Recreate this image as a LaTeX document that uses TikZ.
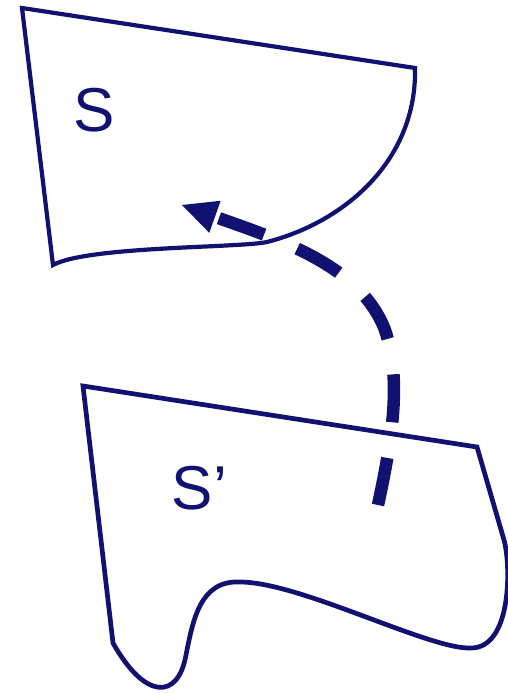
\documentclass[tikz,border=0pt]{standalone}
\usepackage{fontspec}
\setmainfont{Liberation Sans}
\usetikzlibrary{arrows.meta}
\definecolor{navyblue}{RGB}{17,17,114}

\tikzset{every picture/.style={line width=0.75pt}}
\tikzset{
  patch/.style={draw=navyblue, line width=4.2pt, line join=miter},
  patchlabel/.style={text=navyblue, inner sep=0pt, font=\fontsize{62}{70}\selectfont},
  moveline/.style={draw=navyblue, line width=12.5pt, dash pattern=on 48pt off 36pt,
    -{Triangle[length=35pt,width=34pt,line width=0pt]}}
}

\begin{document}
\begin{tikzpicture}[x=1pt,y=1pt,yscale=-1,xscale=1]
\useasboundingbox (0,0) rectangle (508,693);

%Shape: Curve [id:patchS]
\draw [patch] (22,8) -- (415,68) .. controls (417,160) and (345,222) .. (267,242) .. controls (240,248) and (88,246) .. (53,265) -- cycle ;

%Shape: Curve [id:patchSp]
\draw [patch, line width=4.7pt] (83,386) -- (477,447) -- (504,540) .. controls (511,565) and (512,648) .. (471,648) .. controls (430,650) and (300,582) .. (240,582) .. controls (200,580) and (193,620) .. (186,655) .. controls (178,700) and (145,700) .. (113,643) -- cycle ;

% Text Node
\node [patchlabel] (labS) at (94,110.5) {S};
% Text Node
\node [patchlabel] (labSp) at (199.5,488.5) {S’};

% Connector
\coordinate (from) at (378,505);
\coordinate (to) at (182,205);
\draw [moveline] (from) .. controls (392,440) and (402,380) .. (385,330) .. controls (360,265) and (280,240) .. (to) ;

\end{tikzpicture}
\end{document}
